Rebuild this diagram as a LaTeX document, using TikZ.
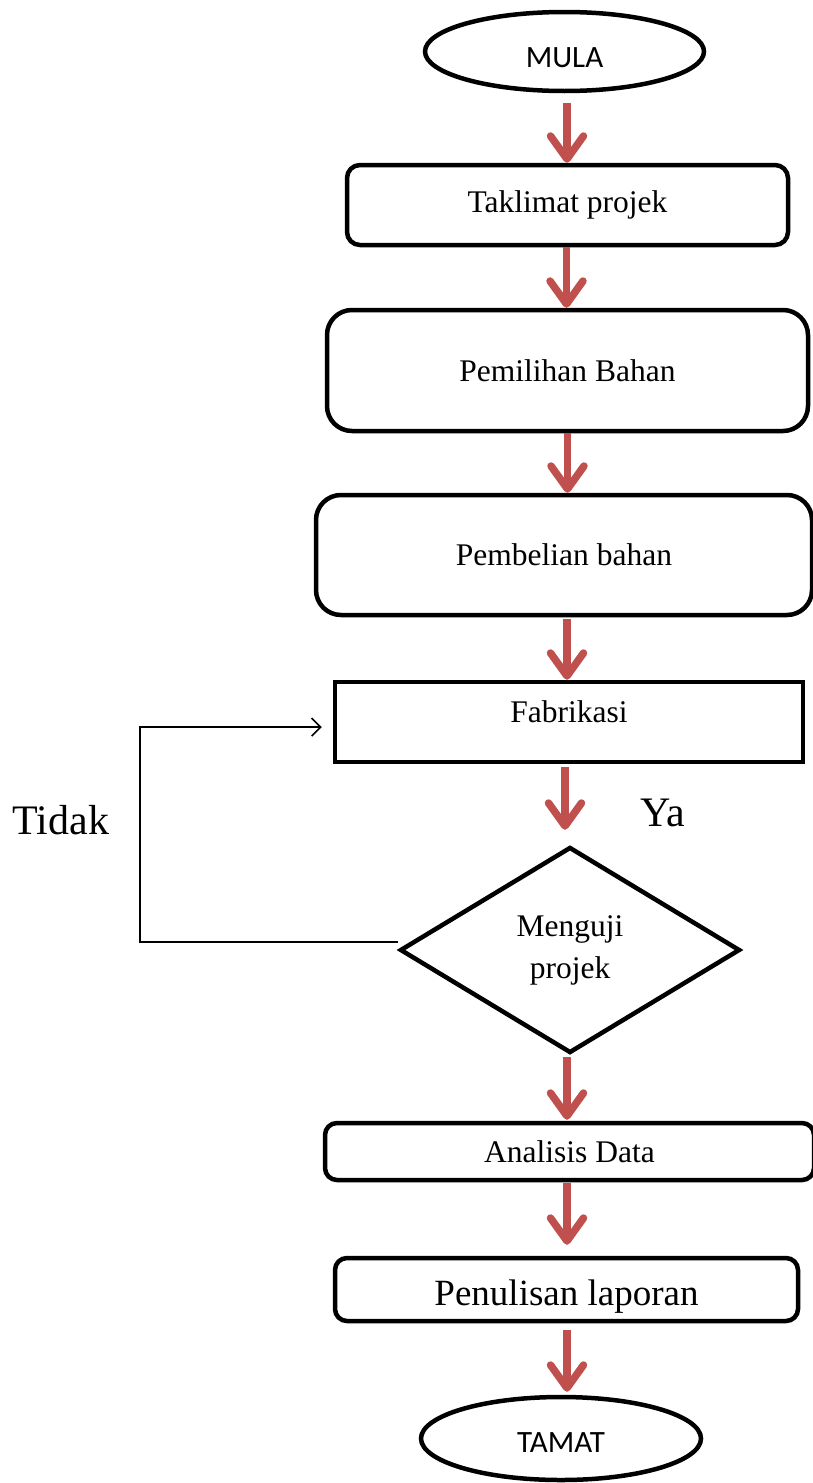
\documentclass[tikz,border=0pt]{standalone}
\usepackage{fontspec}
\setmainfont{Liberation Serif}
\newfontfamily\calibfont{Carlito}
\usetikzlibrary{arrows.meta,shapes.geometric,calc}
\definecolor{arrred}{RGB}{192,80,77}
\begin{document}
\begin{tikzpicture}[x=1pt,y=-1pt,
  box/.style={draw,line width=4.5pt,inner sep=0pt,font=\fontsize{31.5}{41}\selectfont},
  term/.style={ellipse,draw,line width=4.5pt,inner sep=0pt,text depth=0pt,font=\calibfont\fontsize{31}{37}\selectfont},
  redarr/.style={draw=arrred,line width=7.5pt,-{Straight Barb[length=23pt,width=33pt,round]}},
  bigtxt/.style={font=\fontsize{42}{48}\selectfont,inner sep=0pt},
  fbline/.style={draw=black,line width=1.6pt,-{Straight Barb[length=9pt,width=18pt]}}
]
\useasboundingbox (0,0) rectangle (812,1483);

\node[term,minimum width=279pt,minimum height=79pt,text height=31pt] (mula) at (564.5,51.5) {MULA};
\node[box,rounded corners=13pt,minimum width=441pt,minimum height=80pt] (takl) at (567.5,205) {Taklimat projek};
\node[box,rounded corners=25pt,minimum width=481pt,minimum height=121pt] (pemi) at (567.5,370.5) {Pemilihan Bahan};
\node[box,rounded corners=25pt,minimum width=496pt,minimum height=120pt] (pemb) at (564,555) {Pembelian bahan};
\node[box,minimum width=468pt,minimum height=80pt,text depth=20pt] (fab) at (569,722) {Fabrikasi};
\node[box,diamond,minimum width=340pt,minimum height=206pt,align=center,font=\fontsize{31.5}{42}\selectfont] (dia) at (570,950) {Menguji\\projek};
\node[box,rounded corners=12pt,minimum width=489pt,minimum height=57pt] (ana) at (569.5,1151.5) {Analisis Data};
\node[box,rounded corners=12pt,minimum width=463pt,minimum height=63pt,text height=32pt,text depth=0pt,font=\fontsize{37}{44}\selectfont] (pen) at (566.5,1289.5) {Penulisan laporan};
\node[term,minimum width=280pt,minimum height=83pt,text height=28pt] (tamat) at (561,1438.5) {TAMAT};

\node[bigtxt] (ya) at (663,813) {Ya};
\node[bigtxt] (tidak) at (61,820) {Tidak};

\draw[redarr,shorten <=10pt] ($(mula.south)+(2.5,0)$) -- ($(mula.south |- takl.north)+(2.5,0)$);
\draw[redarr] ($(takl.south)+(-1,0)$) -- ($(takl.south |- pemi.north)+(-1,0)$);
\draw[redarr] (pemi.south) -- (pemi.south |- pemb.north);
\draw[redarr,shorten <=2pt] ($(pemb.south)+(3,0)$) -- ($(pemb.south |- fab.north)+(3,0)$);
\draw[redarr,shorten <=3pt,shorten >=15pt] ($(fab.south)+(-4,0)$) -- ($(fab.south |- dia.north)+(-4,0)$);
\draw[redarr,shorten <=2pt,shorten >=1pt] ($(dia.south)+(-3,0)$) -- ($(dia.south |- ana.north)+(-3,0)$);
\draw[redarr,shorten <=1pt,shorten >=11pt] ($(ana.south)+(-2.5,0)$) -- ($(ana.south |- pen.north)+(-2.5,0)$);
\draw[redarr,shorten <=7pt,shorten >=3pt] ($(pen.south)+(0.5,0)$) -- ($(pen.south |- tamat.north)+(0.5,0)$);

\coordinate (bend) at (140,942);
\draw[fbline] ($(dia.west)+(0,-8)$) -- (bend) |- ($(fab.west)+(-11,5)$);
\end{tikzpicture}
\end{document}
